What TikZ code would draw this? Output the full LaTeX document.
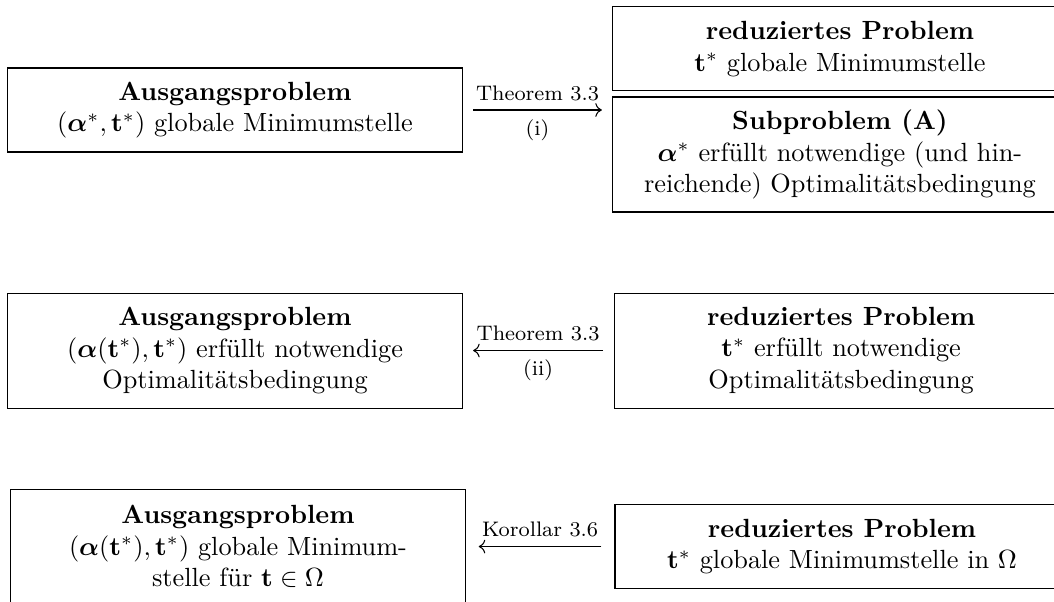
\documentclass[tikz,border=0pt]{standalone}
\usepackage{amsmath,amssymb}
\usepackage{xcolor}
\usepackage{tikz}
\usetikzlibrary{arrows.meta,positioning}

\begin{document}
\begin{tikzpicture}[
    prob/.style={draw, minimum width=6.07cm, minimum height=1.123cm, align=center, inner sep=4pt},
    probtall/.style={prob, minimum height=1.537cm},
    link/.style={->, >=To, shorten <=4pt, shorten >=4pt},
    lbl/.style={font=\footnotesize}
]
    \path[use as bounding box, clip] (0,0) rectangle (14.088,-8.033);

    % First row
    \node[prob] (AP1) at (3.141,-1.470) {\textbf{Ausgangsproblem}\\ $(\boldsymbol{\alpha}^*,\mathbf{t}^*)$ globale Minimumstelle};
    \node[probtall] (SP) at (11.227,-2.065) {\textbf{Subproblem (A)}\\ $\boldsymbol{\alpha}^*$ erfüllt notwendige (und hin-\\reichende) Optimalitätsbedingung};
    \node[prob, above=0.067cm of SP] (RP1) {\textbf{reduziertes Problem}\\ $\mathbf{t}^*$ globale Minimumstelle};

    % Second row
    \node[probtall, below=1.871cm of AP1] (AP2) {\textbf{Ausgangsproblem}\\ $(\boldsymbol{\alpha}(\mathbf{t}^*),\mathbf{t}^*)$ erfüllt notwendige\\ Optimalitätsbedingung};
    \node[probtall, right=2.018cm of AP2] (RP2) {\textbf{reduziertes Problem}\\ $\mathbf{t}^*$ erfüllt notwendige\\ Optimalitätsbedingung};

    % Third row
    \node[probtall, below=1.069cm of AP2, xshift=0.04cm] (AP3) {\textbf{Ausgangsproblem}\\ $(\boldsymbol{\alpha}(\mathbf{t}^*),\mathbf{t}^*)$ globale Minimum-\\ stelle für $\mathbf{t}\in\Omega$};
    \node[prob, right=1.99cm of AP3] (RP3) {\textbf{reduziertes Problem}\\ $\mathbf{t}^*$ globale Minimumstelle in $\Omega$};

    % Arrows
    \draw[link] (AP1.east) -- node[lbl, above] {Theorem 3.3} node[lbl, below] {(i)} (AP1.east -| SP.west);
    \draw[link] (RP2.west) -- node[lbl, above] {Theorem 3.3} node[lbl, below] {(ii)} (AP2.east);
    \draw[link, shorten <=5pt, shorten >=5pt] (RP3.west) -- node[lbl, above] {Korollar 3.6} (RP3.west -| AP3.east);
\end{tikzpicture}
\end{document}
